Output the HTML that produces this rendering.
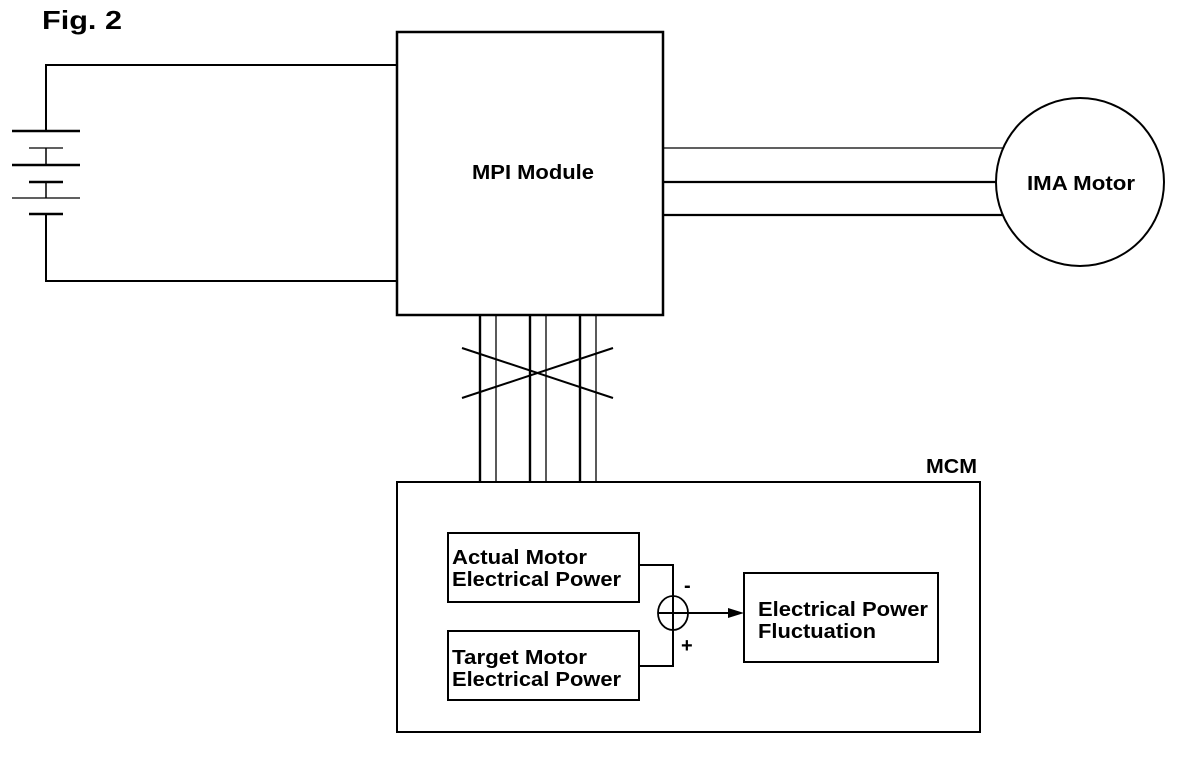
<!DOCTYPE html>
<html><head><meta charset="utf-8"><style>
html,body{margin:0;padding:0;background:#fff;}
svg{display:block;}
text{font-family:"Liberation Sans",Arial,sans-serif;font-weight:bold;fill:#000;}
</style></head><body>
<svg width="1200" height="760" viewBox="0 0 1200 760" xmlns="http://www.w3.org/2000/svg">
<g stroke="#000" fill="none">
<polyline points="397,65 46,65 46,131" stroke-width="2"/>
<polyline points="46,214 46,281 397,281" stroke-width="2"/>
<line x1="46" y1="148" x2="46" y2="165" stroke-width="1.5"/>
<line x1="46" y1="182" x2="46" y2="198" stroke-width="1.5"/>
<line x1="12" y1="131" x2="80" y2="131" stroke-width="2.5"/>
<line x1="29" y1="148" x2="63" y2="148" stroke-width="1.3"/>
<line x1="12" y1="165" x2="80" y2="165" stroke-width="2.5"/>
<line x1="29" y1="182" x2="63" y2="182" stroke-width="2.5"/>
<line x1="12" y1="198" x2="80" y2="198" stroke-width="1.3"/>
<line x1="29" y1="214" x2="63" y2="214" stroke-width="2.5"/>
<rect x="397" y="32" width="266" height="283" stroke-width="2.5"/>
<line x1="663" y1="148" x2="1003" y2="148" stroke-width="1.3"/>
<line x1="663" y1="182" x2="997" y2="182" stroke-width="2.2"/>
<line x1="663" y1="215" x2="1003" y2="215" stroke-width="2.2"/>
<circle cx="1080" cy="182" r="84" stroke-width="2"/>
<line x1="480" y1="315" x2="480" y2="482" stroke-width="2.4"/>
<line x1="496" y1="315" x2="496" y2="482" stroke-width="1.3"/>
<line x1="530" y1="315" x2="530" y2="482" stroke-width="2.4"/>
<line x1="546" y1="315" x2="546" y2="482" stroke-width="1.3"/>
<line x1="580" y1="315" x2="580" y2="482" stroke-width="2.4"/>
<line x1="596" y1="315" x2="596" y2="482" stroke-width="1.3"/>
<line x1="462" y1="348" x2="613" y2="398" stroke-width="2"/>
<line x1="462" y1="398" x2="613" y2="348" stroke-width="2"/>
<rect x="397" y="482" width="583" height="250" stroke-width="2"/>
<rect x="448" y="533" width="191" height="69" stroke-width="2"/>
<rect x="448" y="631" width="191" height="69" stroke-width="2"/>
<rect x="744" y="573" width="194" height="89" stroke-width="2"/>
<polyline points="639,565 673,565 673,631" stroke-width="2"/>
<polyline points="639,666 673,666 673,595" stroke-width="2"/>
<ellipse cx="673" cy="613" rx="15" ry="17" stroke-width="1.8"/>
<line x1="658" y1="613" x2="740" y2="613" stroke-width="2"/>
</g>
<polygon points="744,613 728,608 728,618" fill="#000"/>
<text x="42" y="29" font-size="26" textLength="80" lengthAdjust="spacingAndGlyphs">Fig. 2</text>
<text x="472" y="179" font-size="20" textLength="122" lengthAdjust="spacingAndGlyphs">MPI Module</text>
<text x="1027" y="190" font-size="20" textLength="108" lengthAdjust="spacingAndGlyphs">IMA Motor</text>
<text x="926" y="473" font-size="20" textLength="51" lengthAdjust="spacingAndGlyphs">MCM</text>
<text x="452" y="564" font-size="20" textLength="135" lengthAdjust="spacingAndGlyphs">Actual Motor</text>
<text x="452" y="586" font-size="20" textLength="169" lengthAdjust="spacingAndGlyphs">Electrical Power</text>
<text x="452" y="664" font-size="20" textLength="135" lengthAdjust="spacingAndGlyphs">Target Motor</text>
<text x="452" y="686" font-size="20" textLength="169" lengthAdjust="spacingAndGlyphs">Electrical Power</text>
<text x="758" y="616" font-size="20" textLength="170" lengthAdjust="spacingAndGlyphs">Electrical Power</text>
<text x="758" y="638" font-size="20" textLength="118" lengthAdjust="spacingAndGlyphs">Fluctuation</text>
<text x="684" y="592" font-size="20">-</text>
<text x="681" y="652" font-size="20">+</text>
</svg>
</body></html>
